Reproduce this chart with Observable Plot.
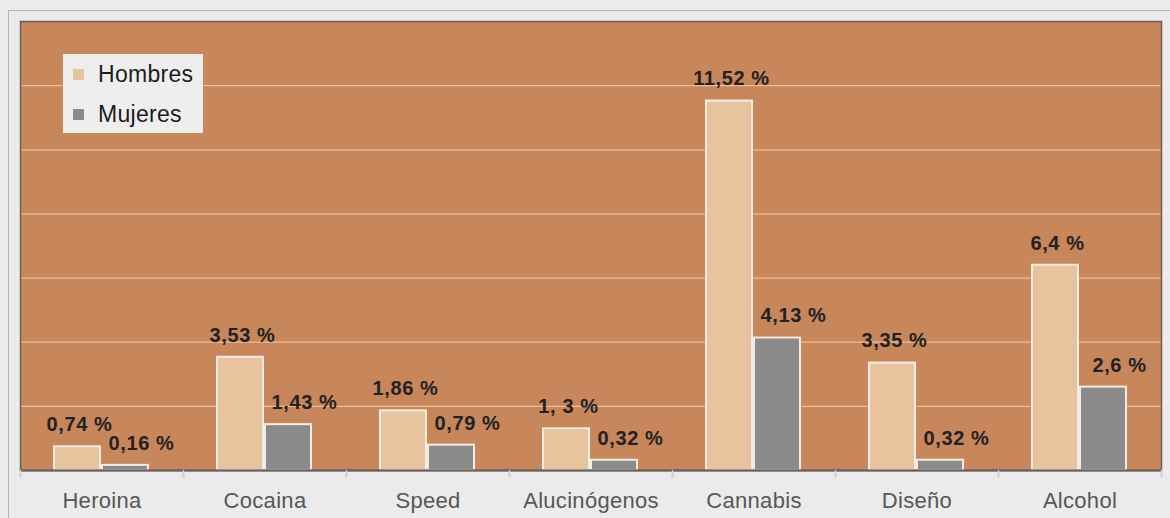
<!DOCTYPE html>
<html>
<head>
<meta charset="utf-8">
<script src="https://cdn.jsdelivr.net/npm/d3@7"></script>
<script src="https://cdn.jsdelivr.net/npm/@observablehq/plot@0.6"></script>
<style>
  html, body { margin: 0; padding: 0; background: #ebebeb; }
  #wrap { position: relative; width: 1170px; height: 518px; overflow: hidden;
          font-family: "Liberation Sans", Arial, sans-serif; }
  #outer { position: absolute; left: 8px; top: 10px; right: -4px; bottom: -4px;
           border-top: 1.5px solid #b4b4b4; border-left: 1.5px solid #b4b4b4; pointer-events: none; }
  #chart svg { display: block; }
  #chart g[aria-label="text"] text { letter-spacing: 0.6px; }
  #chart g[aria-label="fx-axis tick label"] text { letter-spacing: 0.3px; }
  #legend { position: absolute; left: 63px; top: 54px; width: 140px; height: 79px;
            background: #eeeeee; font-size: 23px; color: #1c1c1c; }
  #legend .item { position: absolute; left: 10px; display: flex; align-items: center; letter-spacing: 0.3px; }
  #legend .sw { width: 11px; height: 11px; margin-right: 14px; }
</style>
</head>
<body>
<div id="wrap">
  <div id="chart"></div>
  <div id="outer"></div>
  <div id="legend"></div>
</div>
<script>
// Prevalencia de consumo por sustancia y sexo (%)
const categories = ["Heroina", "Cocaina", "Speed", "Alucinógenos", "Cannabis", "Diseño", "Alcohol"];
const series = ["Hombres", "Mujeres"];
const hombres = [0.74, 3.53, 1.86, 1.3, 11.52, 3.35, 6.4];
const mujeres = [0.16, 1.43, 0.79, 0.32, 4.13, 0.32, 2.6];
const hombresLabels = ["0,74 %", "3,53 %", "1,86 %", "1, 3 %", "11,52 %", "3,35 %", "6,4 %"];
const mujeresLabels = ["0,16 %", "1,43 %", "0,79 %", "0,32 %", "4,13 %", "0,32 %", "2,6 %"];
const gridValues = [2, 4, 6, 8, 10, 12];
const yDomain = [0, 14];

const colors = ["#e7c49d", "#8b8b8b"];
const plotBg = "#c8865b";

const rows = categories.flatMap((cat, i) => [
  {cat, sex: series[0], value: hombres[i], label: hombresLabels[i]},
  {cat, sex: series[1], value: mujeres[i], label: mujeresLabels[i]}
]);

const chart = Plot.plot({
  width: 1170,
  height: 518,
  marginLeft: 19,
  marginRight: 9,
  marginTop: 21,
  marginBottom: 48,
  style: {background: "transparent", fontFamily: "'Liberation Sans', Arial, sans-serif"},
  fx: {domain: categories, padding: 0, label: null},
  x: {domain: series, paddingInner: 0.041, paddingOuter: 0.684, axis: null},
  y: {domain: yDomain, axis: null},
  color: {domain: series, range: colors},
  marks: [
    Plot.frame({facet: "super", fill: plotBg}),
    Plot.ruleY(gridValues, {stroke: "#ecbd96", strokeWidth: 1.2}),
    Plot.barY(rows, {fx: "cat", x: "sex", y: "value", fill: "sex", stroke: "#f3ece4", strokeWidth: 2}),
    Plot.text(rows.filter(d => d.sex === series[0]), {
      fx: "cat", x: "sex", y: "value", text: "label", dy: -22, dx: 2,
      fontSize: 20, fontWeight: "bold", fill: "#222"
    }),
    Plot.text(rows.filter(d => d.sex === series[1]), {
      fx: "cat", x: "sex", y: "value", text: "label", dy: -22, dx: 16,
      fontSize: 20, fontWeight: "bold", fill: "#222"
    }),
    Plot.ruleY([0], {stroke: "#5d5a60", strokeWidth: 2}),
    Plot.frame({facet: "super", stroke: "#6a5e57", strokeWidth: 1.5, fill: "none"}),
    Plot.vector(categories, {fx: d => d, frameAnchor: "bottom-left", length: 6, rotate: 180, anchor: "start", stroke: "#cfcfcf"}),
    Plot.vector(categories.slice(-1), {fx: d => d, frameAnchor: "bottom-right", length: 6, rotate: 180, anchor: "start", stroke: "#cfcfcf"}),
    Plot.axisFx({anchor: "bottom", label: null, tickSize: 0, tickPadding: 22, fontSize: 22, fill: "#575757"})
  ]
});
document.getElementById("chart").appendChild(chart);

// legend
const legend = document.getElementById("legend");
series.forEach((s, i) => {
  const item = document.createElement("div");
  item.className = "item";
  item.style.top = (i === 0 ? 7 : 47) + "px";
  const sw = document.createElement("span");
  sw.className = "sw";
  sw.style.background = colors[i];
  const label = document.createElement("span");
  label.textContent = s;
  item.appendChild(sw);
  item.appendChild(label);
  legend.appendChild(item);
});
</script>
</body>
</html>
